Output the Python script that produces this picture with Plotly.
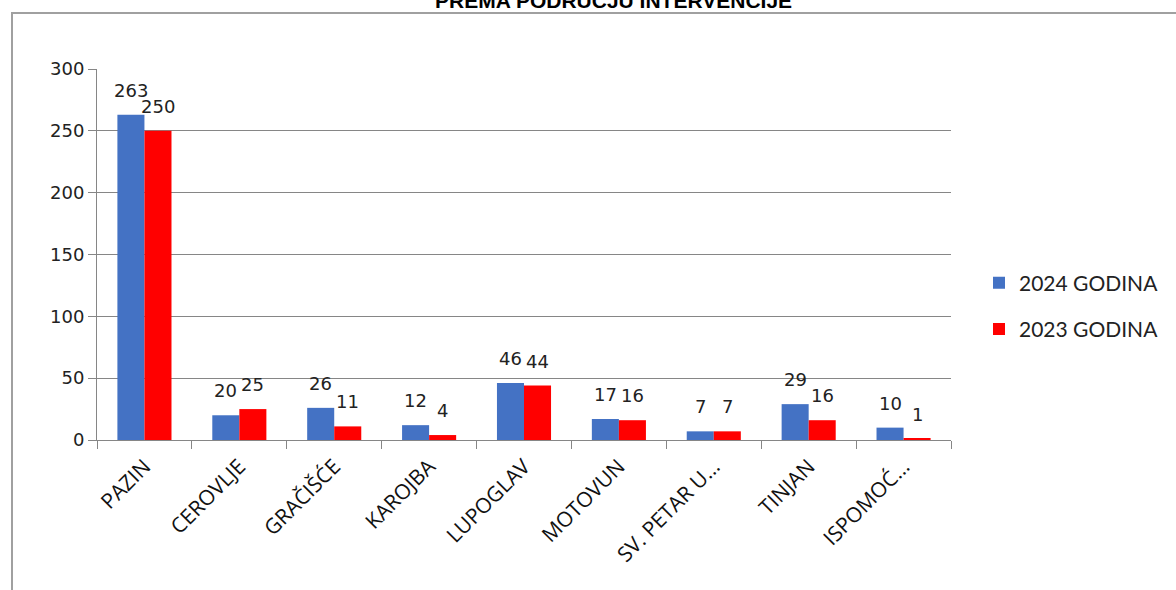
import plotly.graph_objects as go

categories = ["PAZIN", "CEROVLJE", "GRAČIŠĆE", "KAROJBA", "LUPOGLAV", "MOTOVUN", "SV. PETAR U...", "TINJAN", "ISPOMOĆ..."]
values_2024 = [263, 20, 26, 12, 46, 17, 7, 29, 10]
values_2023 = [250, 25, 11, 4, 44, 16, 7, 16, 1]
series_names = ["2024 GODINA", "2023 GODINA"]
title_text = "PREMA PODRUČJU INTERVENCIJE"

W, H = 1176, 590
L = 97
T = 69
B = H - 440
R = W - 951
pw, ph = W - L - R, H - T - B

def px_x(x):
    return (x - L) / pw

def px_y(y):
    return (H - B - y) / ph

colors = ["#4472C4", "#FF0000"]
series_vals = [values_2024, values_2023]

fig = go.Figure()
for i in range(2):
    fig.add_trace(go.Bar(x=categories, y=series_vals[i], name=series_names[i],
                         legendgroup=str(i),
                         marker=dict(color=colors[i], line=dict(width=0))))

annotations = []
bar_half = 13.5
for i in range(2):
    for c, v in zip(categories, series_vals[i]):
        annotations.append(dict(x=c, y=v, xref="x", yref="y", text=str(v),
                                showarrow=False, xanchor="center", yanchor="bottom",
                                xshift=(-bar_half if i == 0 else bar_half), yshift=12,
                                font=dict(family="DejaVu Sans", size=18, color="#222222")))

annotations.append(dict(text="<b>" + title_text + "</b>", xref="paper", yref="paper",
                        x=px_x(613), y=px_y(1), xanchor="center", yanchor="middle",
                        showarrow=False,
                        font=dict(family="Liberation Sans", size=21, color="#000000")))

fig.update_layout(
    width=W, height=H,
    margin=dict(l=L, r=R, t=T, b=B, pad=0),
    plot_bgcolor="white", paper_bgcolor="white",
    barmode="group", bargap=0.43, bargroupgap=0,
    showlegend=True,
    legend=dict(x=px_x(979), y=px_y(306), xanchor="left", yanchor="middle",
                font=dict(family="Lato", size=21, color="#222222"),
                tracegroupgap=16, itemwidth=30, bgcolor="rgba(0,0,0,0)"),
    xaxis=dict(type="category", tickangle=-45, tickson="boundaries", ticks="outside",
               ticklen=8, tickcolor="#868686", showline=True, linecolor="#868686",
               linewidth=1, showgrid=False, ticklabelstandoff=5,
               tickfont=dict(family="Open Sans", size=21, color="#111111")),
    yaxis=dict(range=[0, 300], dtick=50, ticks="outside", ticklen=8, tickcolor="#868686",
               showline=True, linecolor="#868686", linewidth=1,
               showgrid=True, gridcolor="#868686", gridwidth=1, zeroline=False,
               tickfont=dict(family="DejaVu Sans", size=18, color="#222222")),
    shapes=[dict(type="rect", xref="paper", yref="paper",
                 x0=px_x(12), x1=px_x(1300), y0=px_y(13), y1=px_y(700),
                 line=dict(color="#A0A0A0", width=2), fillcolor="rgba(0,0,0,0)", layer="below")],
    annotations=annotations,
)

fig.write_html("out.html", config={"displayModeBar": False},
               post_script="document.body.style.margin='0px';document.body.style.padding='0px';")
